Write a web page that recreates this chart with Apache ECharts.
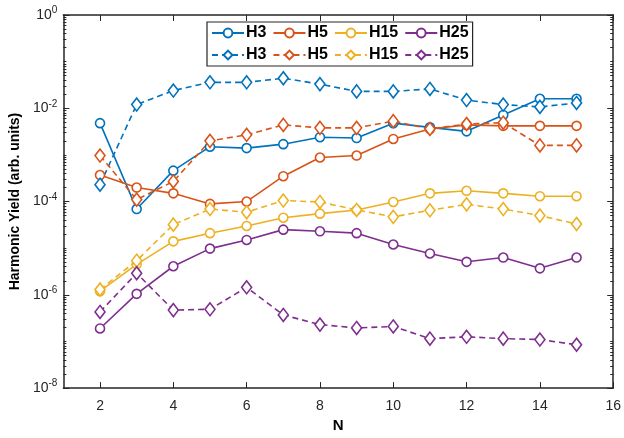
<!DOCTYPE html>
<html>
<head>
<meta charset="utf-8">
<script src="https://cdn.jsdelivr.net/npm/echarts@6/dist/echarts.min.js"></script>
<style>
  html, body { margin: 0; padding: 0; background: #fff; }
  #chart { width: 624px; height: 438px; }
</style>
</head>
<body>
<div id="chart"></div>
<script>
// N values (harmonic order axis)
var nVals = [2, 3, 4, 5, 6, 7, 8, 9, 10, 11, 12, 13, 14, 15];

// solid lines (circles)
var h3Solid  = [4.8e-3, 6.9e-5, 4.6e-4, 1.5e-3, 1.4e-3, 1.7e-3, 2.4e-3, 2.3e-3, 4.8e-3, 3.9e-3, 3.2e-3, 7.2e-3, 1.6e-2, 1.6e-2];
var h5Solid  = [3.7e-4, 2.0e-4, 1.5e-4, 8.9e-5, 1.0e-4, 3.5e-4, 8.8e-4, 9.7e-4, 2.2e-3, 3.6e-3, 4.4e-3, 4.2e-3, 4.2e-3, 4.2e-3];
var h15Solid = [1.2e-6, 4.5e-6, 1.4e-5, 2.1e-5, 3.0e-5, 4.5e-5, 5.5e-5, 6.6e-5, 9.8e-5, 1.5e-4, 1.7e-4, 1.5e-4, 1.3e-4, 1.3e-4];
var h25Solid = [1.9e-7, 1.05e-6, 4.1e-6, 9.8e-6, 1.5e-5, 2.5e-5, 2.3e-5, 2.1e-5, 1.2e-5, 7.7e-6, 5.1e-6, 6.3e-6, 3.7e-6, 6.3e-6];

// dashed lines (diamonds)
var h3Dash  = [2.3e-4, 1.2e-2, 2.4e-2, 3.6e-2, 3.6e-2, 4.4e-2, 3.3e-2, 2.3e-2, 2.3e-2, 2.6e-2, 1.5e-2, 1.2e-2, 1.07e-2, 1.3e-2];
var h5Dash  = [9.7e-4, 1.1e-4, 2.7e-4, 2.0e-3, 2.7e-3, 4.4e-3, 3.8e-3, 3.8e-3, 5.3e-3, 3.6e-3, 4.6e-3, 4.9e-3, 1.6e-3, 1.6e-3];
var h15Dash = [1.3e-6, 5.4e-6, 3.2e-5, 6.9e-5, 5.9e-5, 1.05e-4, 9.8e-5, 6.6e-5, 4.7e-5, 6.5e-5, 8.7e-5, 6.9e-5, 5.0e-5, 3.3e-5];
var h25Dash = [4.3e-7, 2.9e-6, 4.7e-7, 4.9e-7, 1.45e-6, 3.7e-7, 2.3e-7, 1.95e-7, 2.1e-7, 1.15e-7, 1.26e-7, 1.15e-7, 1.1e-7, 8.5e-8];

var xTicks = [2, 4, 6, 8, 10, 12, 14, 16];
var yMajorExp = [-8, -6, -4, -2, 0];   // labelled decades (log10)
var harmonics = ['H3', 'H5', 'H15', 'H25'];
var colors = ['#0072BD', '#D95319', '#EDB120', '#7E2F8E'];

// minor log ticks 1..9 x 10^d (log10 positions), skipping labelled decades
var minorExp = [];
for (var d = -8; d < 0; d++) {
  for (var k = 1; k <= 9; k++) {
    if (k === 1 && d % 2 === 0) continue;
    minorExp.push(d + Math.log10(k));
  }
}

var font = 'Liberation Sans, Arial, Helvetica, sans-serif';
var axisColor = '#262626';

function pairs(arr) {
  return arr.map(function (v, i) { return [nVals[i], v]; });
}

var solidSets = [h3Solid, h5Solid, h15Solid, h25Solid];
var dashSets = [h3Dash, h5Dash, h15Dash, h25Dash];

var series = [];
var legendNames = [];
harmonics.forEach(function (h, i) {
  legendNames.push(h);
  series.push({
    name: h,
    type: 'line',
    data: pairs(solidSets[i]),
    symbol: 'circle',
    symbolSize: 9,
    showSymbol: true,
    itemStyle: { color: '#fff', borderColor: colors[i], borderWidth: 1.6 },
    lineStyle: { color: colors[i], width: 1.6 },
    color: colors[i],
    z: 3
  });
});
harmonics.forEach(function (h, i) {
  legendNames.push(h + ' dashed');
  series.push({
    name: h + ' dashed',
    type: 'line',
    data: pairs(dashSets[i]),
    symbol: 'diamond',
    symbolSize: [10, 13],
    showSymbol: true,
    itemStyle: { color: '#fff', borderColor: colors[i], borderWidth: 1.6 },
    lineStyle: { color: colors[i], width: 1.6, type: [6, 4] },
    color: colors[i],
    z: 3
  });
});

// tick-only axes living in log10 space
function tickAxis(pos, values, len) {
  return {
    type: 'value',
    position: pos,
    min: -8,
    max: 0,
    splitLine: { show: false },
    axisLine: { show: false },
    axisTick: { inside: true, length: len, customValues: values, lineStyle: { color: axisColor, width: 1 } },
    axisLabel: { show: false }
  };
}

var option = {
  animation: false,
  backgroundColor: '#fff',
  grid: { left: 63, right: 10, top: 15, bottom: 46 },
  legend: {
    data: legendNames,
    left: 207,
    top: 22,
    width: 260,
    padding: [3, 4, 3, 4],
    itemGap: 6,
    itemWidth: 32,
    itemHeight: 11,
    borderColor: axisColor,
    borderWidth: 1.2,
    backgroundColor: '#fff',
    formatter: function (name) { return name.split(' ')[0]; },
    textStyle: { fontFamily: font, fontSize: 16, fontWeight: 'bold', color: '#000', padding: [0, 0, 0, -3] }
  },
  xAxis: [
    {
      type: 'value',
      min: 1,
      max: 16,
      name: 'N',
      nameLocation: 'middle',
      nameGap: 26,
      nameTextStyle: { fontFamily: font, fontSize: 15, fontWeight: 'bold', color: '#000' },
      splitLine: { show: false },
      axisLine: { onZero: false, lineStyle: { color: axisColor, width: 1.5 } },
      axisTick: { inside: true, length: 6, customValues: xTicks, lineStyle: { color: axisColor } },
      axisLabel: { customValues: xTicks, fontFamily: font, fontSize: 14, color: axisColor, margin: 11 }
    },
    {
      type: 'value',
      position: 'top',
      min: 1,
      max: 16,
      splitLine: { show: false },
      axisLine: { onZero: false, lineStyle: { color: axisColor, width: 1.5 } },
      axisTick: { inside: true, length: 6, customValues: xTicks, lineStyle: { color: axisColor } },
      axisLabel: { show: false }
    }
  ],
  yAxis: [
    {
      type: 'log',
      logBase: 10,
      min: 1e-8,
      max: 1,
      interval: 1,
      position: 'left',
      name: 'Harmonic Yield (arb. units)',
      nameLocation: 'middle',
      nameGap: 37,
      nameTextStyle: { fontFamily: font, fontSize: 14, fontWeight: 'bold', color: '#000' },
      splitLine: { show: false },
      axisLine: { show: true, lineStyle: { color: axisColor, width: 1.5 } },
      axisTick: { show: false },
      axisLabel: {
        color: axisColor,
        margin: 6,
        formatter: function (v) {
          var e = Math.round(Math.log10(v));
          if (yMajorExp.indexOf(e) < 0) return '';
          return '{b|10}{s|' + e + '}';
        },
        rich: {
          b: { fontFamily: font, fontSize: 14, color: axisColor },
          s: { fontFamily: font, fontSize: 10, color: axisColor, padding: [0, 0, 9, 0] }
        }
      }
    },
    Object.assign(tickAxis('left', yMajorExp, 6), {
      axisLine: { show: false }
    }),
    tickAxis('left', minorExp, 3),
    Object.assign(tickAxis('right', yMajorExp, 6), {
      axisLine: { show: true, lineStyle: { color: axisColor, width: 1.5 } }
    }),
    tickAxis('right', minorExp, 3)
  ],
  series: series
};

var myChart = echarts.init(document.getElementById('chart'));
myChart.setOption(option);
</script>
</body>
</html>
